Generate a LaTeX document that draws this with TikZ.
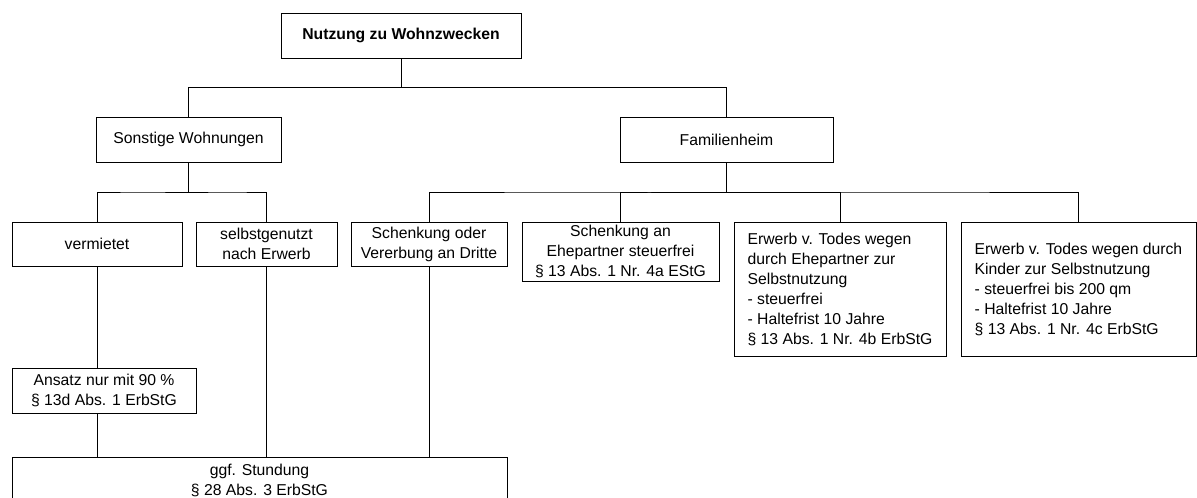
\documentclass[tikz,border=0pt]{standalone}
\usepackage{fontspec}
\setmainfont{Liberation Sans}
\usepackage{tikz}
\usetikzlibrary{calc}

\begin{document}
\begin{tikzpicture}[x=0.75pt,y=-0.75pt,
		box/.style={rectangle,draw=black,line width=0.75pt,inner sep=0pt,align=center,font=\fontsize{11.8}{15}\selectfont},
		leftbox/.style={box,align=left},
		link/.style={draw=black,line width=0.75pt},
		tree/.style={link,to path={(\tikztostart) |- ($(\tikztostart)!0.5!(\tikztotarget)$) -| (\tikztotarget)}}]
		\useasboundingbox (0,0) rectangle (1197,497);

		\node[box,minimum width=180pt,minimum height=33.75pt] (top) at (401,35.5) {\textbf{Nutzung zu Wohnzwecken}};

		\node[box,minimum width=138.75pt,minimum height=33.75pt] (sonst) at (188.5,139.5) {Sonstige Wohnungen};
		\node[box,minimum width=159.75pt,minimum height=33.75pt] (fam) at (726.5,139.5) {Familienheim};

		\node[box,minimum width=127.5pt,minimum height=33pt] (verm) at (97,244) {vermietet};
		\node[box,minimum width=105.75pt,minimum height=33pt] (selbst) at (266.5,244) {selbstgenutzt\\nach Erwerb};
		\node[box,minimum width=117pt,minimum height=33pt] (dritte) at (429,244) {Schenkung oder\\Vererbung an Dritte};
		\node[box,minimum width=147.75pt,minimum height=44.25pt] (ehe) at (620.5,251.5) {Schenkung an\\Ehepartner steuerfrei\\§ 13 Abs. 1 Nr. 4a EStG};
		\node[leftbox,minimum width=159pt,minimum height=100.5pt] (todehe) at (840,289) {Erwerb v. Todes wegen\\durch Ehepartner zur\\Selbstnutzung\\- steuerfrei\\- Haltefrist 10 Jahre\\§ 13 Abs. 1 Nr. 4b ErbStG};
		\node[leftbox,minimum width=176.25pt,minimum height=100.5pt] (todkind) at (1078.5,289) {Erwerb v. Todes wegen durch\\Kinder zur Selbstnutzung\\- steuerfrei bis 200 qm\\- Haltefrist 10 Jahre\\§ 13 Abs. 1 Nr. 4c ErbStG};

		\node[box,minimum width=138pt,minimum height=33.75pt] (ansatz) at (104,390.5) {Ansatz nur mit 90 \%\\§ 13d Abs. 1 ErbStG};
		\node[box,minimum width=371.25pt,minimum height=34.5pt] (ggf) at (259.5,480) {ggf. Stundung\\§ 28 Abs. 3 ErbStG};

		% branches
		\draw[tree] (top.south) to (sonst.north);
		\draw[tree] (top.south) to (fam.north);
		\draw[tree] (sonst.south) to (verm.north);
		\draw[tree] (sonst.south) to (selbst.north);
		\draw[tree] (fam.south) to (dritte.north);
		\draw[tree] (fam.south) to (ehe.north);
		\draw[tree] (fam.south) to (todehe.north);
		\draw[tree] (fam.south) to (todkind.north);

		% down to the bottom box
		\draw[link] (verm) -- (verm |- ansatz.north);
		\draw[link] (verm |- ansatz.south) -- (verm |- ggf.north);
		\draw[link] (selbst) -- (selbst |- ggf.north);
		\draw[link] (dritte) -- (dritte |- ggf.north);
	\end{tikzpicture}
\end{document}
